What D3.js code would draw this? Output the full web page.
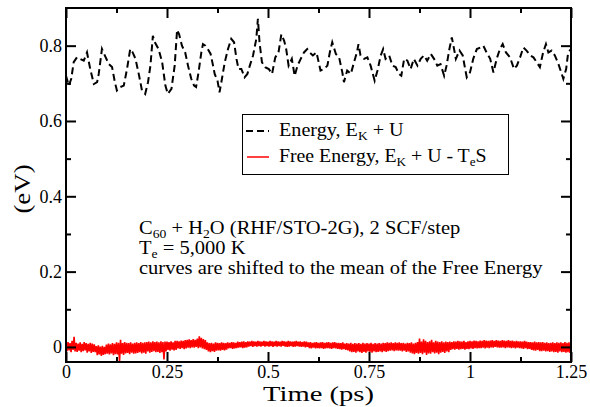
<!DOCTYPE html>
<html>
<head>
<meta charset="utf-8">
<script src="https://cdn.jsdelivr.net/npm/d3@7"></script>
<style>
  body { margin: 0; background: #fff; }
  svg text { font-family: "Liberation Serif", "Times New Roman", serif; }
</style>
</head>
<body>
<svg id="chart"></svg>
<script>
// energy (black dashed): time (ps) / value (eV)
const energyTime = [
  0, 0.007, 0.013, 0.019, 0.027, 0.035, 0.044, 0.052, 0.060, 0.069, 0.077, 0.081, 0.089, 0.096,
  0.106, 0.114, 0.121, 0.126, 0.134, 0.143, 0.151, 0.159, 0.165, 0.172, 0.181, 0.188, 0.196,
  0.203, 0.209, 0.215, 0.220, 0.229, 0.238, 0.246, 0.252, 0.261, 0.269, 0.275, 0.280, 0.287,
  0.295, 0.302, 0.310, 0.317, 0.322, 0.328, 0.335, 0.339, 0.345, 0.351, 0.358, 0.364, 0.368,
  0.375, 0.380, 0.386, 0.393, 0.401, 0.409, 0.416, 0.422, 0.427, 0.434, 0.442, 0.449, 0.455,
  0.463, 0.471, 0.475, 0.479, 0.485, 0.493, 0.502, 0.510, 0.518, 0.526, 0.533, 0.540, 0.545,
  0.551, 0.559, 0.566, 0.573, 0.581, 0.589, 0.597, 0.603, 0.611, 0.620, 0.630, 0.639, 0.647,
  0.653, 0.659, 0.668, 0.676, 0.684, 0.688, 0.696, 0.705, 0.713, 0.720, 0.724, 0.729, 0.738,
  0.746, 0.754, 0.764, 0.771, 0.779, 0.785, 0.791, 0.800, 0.808, 0.816, 0.824, 0.830, 0.837,
  0.845, 0.853, 0.861, 0.870, 0.878, 0.886, 0.894, 0.903, 0.911, 0.919, 0.927, 0.936, 0.942,
  0.949, 0.955, 0.959, 0.965, 0.974, 0.982, 0.988, 0.992, 1.000, 1.008, 1.017, 1.025, 1.033,
  1.041, 1.050, 1.058, 1.066, 1.074, 1.081, 1.089, 1.099, 1.109, 1.116, 1.124, 1.132, 1.140,
  1.149, 1.157, 1.165, 1.173, 1.181, 1.188, 1.194, 1.202, 1.210, 1.219, 1.227, 1.231, 1.238,
  1.243, 1.250
];
const energyValue = [
  0.720, 0.694, 0.712, 0.756, 0.769, 0.765, 0.760, 0.782, 0.738, 0.698, 0.703, 0.725, 0.791, 0.774,
  0.751, 0.743, 0.703, 0.681, 0.690, 0.694, 0.738, 0.791, 0.782, 0.765, 0.720, 0.681, 0.672,
  0.703, 0.747, 0.826, 0.809, 0.791, 0.756, 0.694, 0.672, 0.685, 0.747, 0.842, 0.830, 0.800,
  0.782, 0.747, 0.712, 0.694, 0.690, 0.729, 0.782, 0.804, 0.800, 0.791, 0.778, 0.747, 0.725,
  0.707, 0.676, 0.712, 0.756, 0.791, 0.818, 0.809, 0.765, 0.738, 0.738, 0.716, 0.725, 0.747,
  0.774, 0.818, 0.871, 0.809, 0.756, 0.743, 0.738, 0.725, 0.769, 0.782, 0.830, 0.813, 0.791,
  0.747, 0.765, 0.720, 0.747, 0.765, 0.782, 0.791, 0.782, 0.774, 0.782, 0.734, 0.738, 0.747,
  0.782, 0.809, 0.778, 0.769, 0.729, 0.703, 0.734, 0.725, 0.756, 0.782, 0.804, 0.774, 0.765,
  0.769, 0.747, 0.707, 0.734, 0.774, 0.791, 0.765, 0.774, 0.747, 0.743, 0.725, 0.720, 0.765,
  0.760, 0.738, 0.765, 0.747, 0.765, 0.774, 0.760, 0.778, 0.765, 0.747, 0.751, 0.720, 0.747,
  0.791, 0.822, 0.800, 0.765, 0.787, 0.774, 0.738, 0.716, 0.729, 0.765, 0.791, 0.795, 0.800,
  0.782, 0.765, 0.729, 0.765, 0.791, 0.804, 0.782, 0.769, 0.738, 0.747, 0.769, 0.795, 0.787,
  0.774, 0.769, 0.756, 0.743, 0.782, 0.804, 0.782, 0.787, 0.774, 0.751, 0.725, 0.712, 0.738,
  0.782, 0.791
];

// free energy (red), one sample every 0.0025 ps, ten samples per row
const freeStep = 0.0025;
const freeValue = [
  0.008, -0.011, 0.013, -0.009, 0.010, -0.014, 0.016, -0.008, 0.027, -0.012,
  0.011, -0.013, 0.009, -0.010, 0.012, -0.014, 0.008, -0.011, 0.013, -0.009,
  0.010, -0.015, 0.008, -0.012, 0.011, -0.016, 0.009, -0.013, 0.007, -0.014,
  0.002, -0.022, 0.004, -0.020, 0.001, -0.024, 0.003, -0.021, 0.000, -0.019,
  0.006, -0.018, 0.009, -0.020, 0.007, -0.017, 0.010, -0.022, 0.008, -0.019,
  0.012, -0.020, 0.011, -0.039, 0.019, -0.018, 0.010, -0.021, 0.013, -0.017,
  0.011, -0.016, 0.010, -0.019, 0.012, -0.015, 0.009, -0.018, 0.011, -0.017,
  0.012, -0.016, 0.010, -0.014, 0.013, -0.017, 0.011, -0.015, 0.012, -0.018,
  0.013, -0.012, 0.014, -0.015, 0.012, -0.013, 0.015, -0.011, 0.013, -0.014,
  0.014, -0.013, 0.012, -0.016, 0.015, -0.014, 0.013, -0.033, 0.014, -0.012,
  0.014, -0.008, 0.013, -0.010, 0.015, -0.007, 0.012, -0.009, 0.016, -0.008,
  0.016, -0.004, 0.015, -0.005, 0.017, -0.003, 0.016, -0.006, 0.018, -0.004,
  0.019, -0.002, 0.020, -0.003, 0.018, -0.001, 0.021, -0.002, 0.019, 0.000,
  0.022, -0.003, 0.028, -0.001, 0.024, -0.004, 0.021, -0.006, 0.018, -0.008,
  0.012, -0.012, 0.010, -0.014, 0.011, -0.011, 0.009, -0.013, 0.012, -0.010,
  0.011, -0.009, 0.010, -0.010, 0.012, -0.008, 0.011, -0.009, 0.010, -0.007,
  0.012, -0.004, 0.011, -0.003, 0.013, -0.005, 0.012, -0.004, 0.011, -0.003,
  0.014, -0.002, 0.013, -0.001, 0.014, -0.003, 0.015, -0.002, 0.013, -0.001,
  0.015, 0.001, 0.014, 0.002, 0.016, 0.000, 0.015, 0.002, 0.014, 0.001,
  0.016, 0.002, 0.015, 0.001, 0.014, 0.003, 0.016, 0.001, 0.015, 0.002,
  0.014, 0.001, 0.016, 0.002, 0.015, 0.000, 0.014, 0.002, 0.016, 0.001,
  0.015, 0.002, 0.014, 0.001, 0.016, 0.003, 0.015, 0.001, 0.014, 0.000,
  0.016, 0.001, 0.015, 0.002, 0.014, 0.000, 0.015, 0.001, 0.016, 0.002,
  0.014, 0.001, 0.015, 0.000, 0.013, 0.001, 0.015, -0.001, 0.014, 0.000,
  0.012, -0.003, 0.013, -0.004, 0.011, -0.002, 0.012, -0.004, 0.013, -0.003,
  0.011, -0.004, 0.012, -0.003, 0.013, -0.005, 0.011, -0.004, 0.012, -0.003,
  0.013, -0.004, 0.011, -0.005, 0.012, -0.003, 0.013, -0.004, 0.011, -0.005,
  0.011, -0.006, 0.010, -0.007, 0.012, -0.006, 0.009, -0.008, 0.010, -0.009,
  0.009, -0.012, 0.011, -0.014, 0.008, -0.013, 0.010, -0.015, 0.009, -0.012,
  0.010, -0.014, 0.008, -0.016, 0.011, -0.013, 0.009, -0.015, 0.010, -0.012,
  0.009, -0.013, 0.011, -0.015, 0.008, -0.012, 0.010, -0.014, 0.009, -0.013,
  0.010, -0.012, 0.009, -0.014, 0.011, -0.011, 0.010, -0.013, 0.012, -0.011,
  0.011, -0.010, 0.012, -0.009, 0.010, -0.011, 0.012, -0.009, 0.011, -0.010,
  0.012, -0.010, 0.010, -0.012, 0.011, -0.010, 0.009, -0.013, 0.011, -0.012,
  0.010, -0.015, 0.012, -0.017, 0.009, -0.019, 0.011, -0.016, 0.013, -0.018,
  0.022, -0.016, 0.014, -0.019, 0.020, -0.015, 0.016, -0.021, 0.013, -0.017,
  0.015, -0.018, 0.019, -0.014, 0.012, -0.017, 0.016, -0.015, 0.014, -0.019,
  0.013, -0.015, 0.015, -0.013, 0.012, -0.016, 0.014, -0.012, 0.013, -0.014,
  0.014, -0.008, 0.013, -0.006, 0.015, -0.007, 0.014, -0.005, 0.016, -0.007,
  0.015, -0.006, 0.014, -0.005, 0.016, -0.007, 0.013, -0.005, 0.015, -0.006,
  0.016, -0.004, 0.015, -0.005, 0.017, -0.003, 0.016, -0.004, 0.015, -0.003,
  0.017, -0.003, 0.016, -0.002, 0.018, -0.004, 0.017, -0.002, 0.016, -0.003,
  0.017, -0.001, 0.018, -0.002, 0.016, 0.000, 0.018, -0.001, 0.017, -0.002,
  0.016, -0.002, 0.018, -0.001, 0.017, -0.003, 0.016, -0.001, 0.018, -0.002,
  0.016, -0.003, 0.017, -0.002, 0.015, -0.004, 0.016, -0.002, 0.015, -0.003,
  0.015, -0.004, 0.014, -0.005, 0.016, -0.003, 0.014, -0.006, 0.013, -0.005,
  0.013, -0.008, 0.012, -0.009, 0.014, -0.010, 0.012, -0.008, 0.013, -0.011,
  0.012, -0.011, 0.013, -0.010, 0.011, -0.012, 0.012, -0.011, 0.010, -0.013,
  0.011, -0.012, 0.012, -0.014, 0.010, -0.013, 0.012, -0.015, 0.011, -0.012,
  0.012, -0.014, 0.010, -0.013, 0.013, -0.015, 0.011, -0.014, 0.012, -0.016,
  0.006
];

const xMajor = [0, 0.25, 0.5, 0.75, 1, 1.25];
const xMinor = [0.125, 0.375, 0.625, 0.875, 1.125];
const xLabels = ["0", "0.25", "0.5", "0.75", "1", "1.25"];
const yMajor = [0, 0.2, 0.4, 0.6, 0.8];
const yMinor = [0.1, 0.3, 0.5, 0.7];
const yLabels = ["0", "0.2", "0.4", "0.6", "0.8"];

const svgWidth = 590, svgHeight = 407;
const margin = { top: 8, right: 19, bottom: 45, left: 66 };
const width = svgWidth - margin.left - margin.right;
const height = svgHeight - margin.top - margin.bottom;
const serif = "Liberation Serif, Times New Roman, serif";

const svg = d3.select("#chart")
    .attr("width", svgWidth)
    .attr("height", svgHeight);

const g = svg.append("g")
    .attr("transform", `translate(${margin.left},${margin.top})`);

const x = d3.scaleLinear().domain([0, 1.25]).range([0, width]);
const y = d3.scaleLinear().domain([-0.04, 0.9]).range([height, 0]);

// curves
const energyData = energyTime.map((t, i) => ({ t, v: energyValue[i] }));
const freeData = freeValue.map((v, i) => ({ t: i * freeStep, v }));
const line = d3.line().x(d => x(d.t)).y(d => y(d.v));

g.append("path")
    .datum(freeData)
    .attr("fill", "none")
    .attr("stroke", "#ff0000")
    .attr("stroke-width", 1.6)
    .attr("stroke-linejoin", "bevel")
    .attr("d", line);

g.append("path")
    .datum(energyData)
    .attr("fill", "none")
    .attr("stroke", "#000")
    .attr("stroke-width", 2)
    .attr("stroke-dasharray", "7 4")
    .attr("d", line);

// axes, ticks pointing inward on all four sides
const styleAxis = (sel) => {
    sel.attr("font-family", serif).attr("font-size", 18);
    sel.selectAll(".domain").remove();
    sel.selectAll(".tick line").attr("stroke", "#000").attr("stroke-width", 2);
    sel.selectAll(".tick text")
        .attr("fill", "#000")
        .style("font-family", serif)
        .style("font-size", "18px");
};

g.append("g")
    .attr("transform", `translate(0,${height})`)
    .call(d3.axisBottom(x).tickValues(xMajor).tickSizeInner(-10).tickSizeOuter(0).tickPadding(3)
        .tickFormat((d, i) => xLabels[i]))
    .call(styleAxis);
g.append("g")
    .attr("transform", `translate(0,${height})`)
    .call(d3.axisBottom(x).tickValues(xMinor).tickSizeInner(-5).tickSizeOuter(0).tickFormat(""))
    .call(styleAxis);
g.append("g")
    .call(d3.axisTop(x).tickValues(xMajor).tickSizeInner(-10).tickSizeOuter(0).tickFormat(""))
    .call(styleAxis);
g.append("g")
    .call(d3.axisTop(x).tickValues(xMinor).tickSizeInner(-5).tickSizeOuter(0).tickFormat(""))
    .call(styleAxis);

g.append("g")
    .call(d3.axisLeft(y).tickValues(yMajor).tickSizeInner(-10).tickSizeOuter(0).tickPadding(4)
        .tickFormat((d, i) => yLabels[i]))
    .call(styleAxis);
g.append("g")
    .call(d3.axisLeft(y).tickValues(yMinor).tickSizeInner(-5).tickSizeOuter(0).tickFormat(""))
    .call(styleAxis);
g.append("g")
    .attr("transform", `translate(${width},0)`)
    .call(d3.axisRight(y).tickValues(yMajor).tickSizeInner(-10).tickSizeOuter(0).tickFormat(""))
    .call(styleAxis);
g.append("g")
    .attr("transform", `translate(${width},0)`)
    .call(d3.axisRight(y).tickValues(yMinor).tickSizeInner(-5).tickSizeOuter(0).tickFormat(""))
    .call(styleAxis);

// frame
g.append("rect")
    .attr("width", width)
    .attr("height", height)
    .attr("fill", "none")
    .attr("stroke", "#000")
    .attr("stroke-width", 2);

// axis titles (the original font runs a little wide, so stretch it)
svg.append("text")
    .attr("transform", `translate(${margin.left + width / 2},401) scale(1.3,1)`)
    .attr("text-anchor", "middle")
    .style("font-size", "22px")
    .text("Time (ps)");

svg.append("text")
    .attr("transform", "translate(30,189) rotate(-90) scale(1.12,1)")
    .attr("text-anchor", "middle")
    .style("font-size", "24px")
    .text("(eV)");

// text with subscripts: parts are [string, isSub]
const richText = (parent, px, py, parts, size, stretch) => {
    const t = parent.append("text")
        .attr("transform", `translate(${px},${py}) scale(${stretch},1)`)
        .style("font-size", size + "px");
    let down = false;
    parts.forEach(([s, sub]) => {
        const span = t.append("tspan").text(s);
        if (sub) {
            span.style("font-size", (size - 6) + "px");
            if (!down) { span.attr("dy", 4); down = true; }
        } else if (down) {
            span.attr("dy", -4);
            down = false;
        }
    });
    return t;
};

// legend
svg.append("rect")
    .attr("x", 242.5)
    .attr("y", 114.5)
    .attr("width", 266)
    .attr("height", 60)
    .attr("fill", "#fff")
    .attr("stroke", "#000")
    .attr("stroke-width", 1);

svg.append("line")
    .attr("x1", 246).attr("x2", 269)
    .attr("y1", 131).attr("y2", 131)
    .attr("stroke", "#000").attr("stroke-width", 2)
    .attr("stroke-dasharray", "7 4");
svg.append("line")
    .attr("x1", 247).attr("x2", 269)
    .attr("y1", 157).attr("y2", 157)
    .attr("stroke", "#ff0000").attr("stroke-width", 1.5);

richText(svg, 279, 136, [["Energy, E"], ["K", true], [" + U"]], 18, 1.12);
richText(svg, 279, 162, [["Free Energy, E"], ["K", true], [" + U - T"], ["e", true], ["S"]], 18, 1.1);

// annotation
richText(svg, 139, 234, [["C"], ["60", true], [" + H"], ["2", true], ["O (RHF/STO-2G), 2 SCF/step"]], 18, 1.14);
richText(svg, 139, 254, [["T"], ["e", true], [" = 5,000 K"]], 18, 1.14);
richText(svg, 139, 274, [["curves are shifted to the mean of the Free Energy"]], 18, 1.14);
</script>
</body>
</html>
